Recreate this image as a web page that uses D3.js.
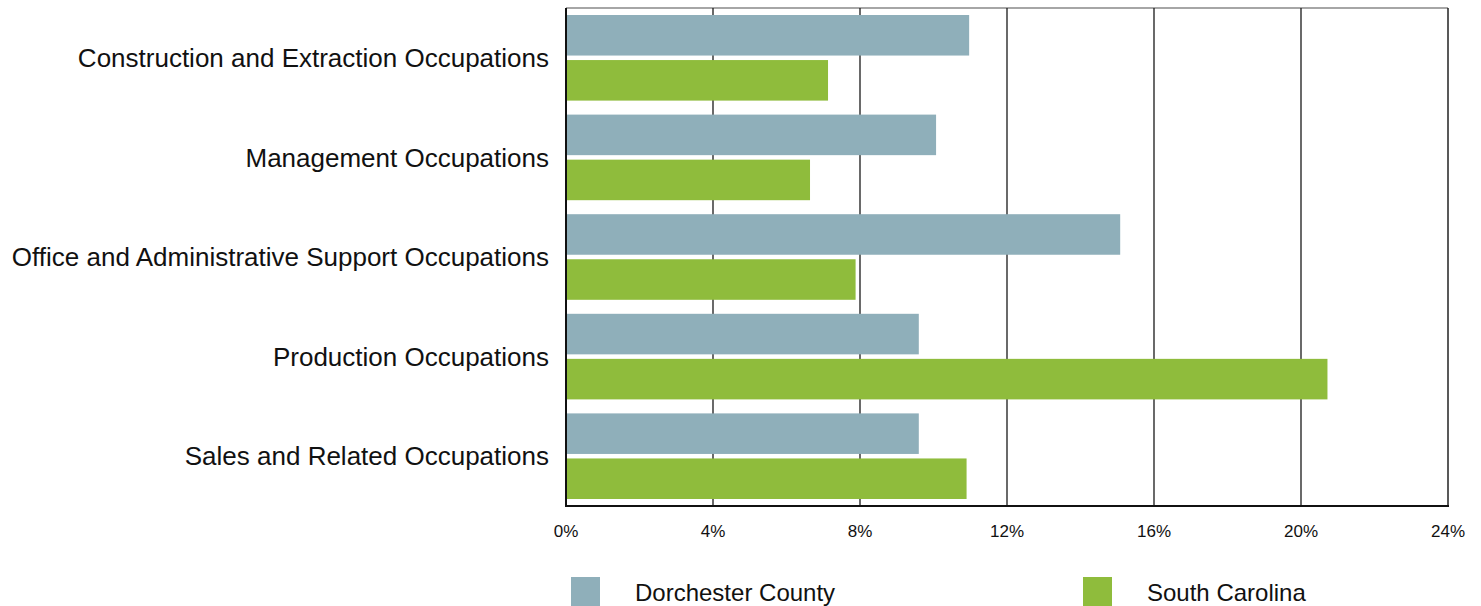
<!DOCTYPE html>
<meta charset="utf-8">
<head>
<script src="https://d3js.org/d3.v7.min.js"></script>
<style>
  body { margin: 0; background: #fff; font-family: "Liberation Sans", Arial, Helvetica, sans-serif; }
</style>
</head>
<body>
<svg></svg>
<script>
  // data
  var categories = ["Construction and Extraction Occupations", "Management Occupations",
                    "Office and Administrative Support Occupations", "Production Occupations",
                    "Sales and Related Occupations"];
  var seriesNames = ["Dorchester County", "South Carolina"];
  var dorchester = [10.97, 10.07, 15.08, 9.6, 9.6];
  var southCarolina = [7.13, 6.64, 7.88, 20.72, 10.9];
  var tickValues = [0, 4, 8, 12, 16, 20, 24];
  var colors = ["#8fafba", "#8fbc3c"];

  var width = 1481, height = 606;
  var plotLeft = 566, plotRight = 1448, plotTop = 8, plotBottom = 506;

  var svg = d3.select("svg").attr("width", width).attr("height", height);

  var x = d3.scaleLinear().domain([0, 24]).range([plotLeft, plotRight]);
  var y = d3.scaleBand().domain(categories).range([plotTop, plotBottom]);
  var inner = d3.scaleBand().domain(seriesNames).range([7, y.bandwidth() - 7]).paddingInner(0.1);

  // frame: top + right borders
  svg.append("line").attr("x1", plotLeft).attr("x2", plotRight).attr("y1", plotTop).attr("y2", plotTop)
    .attr("stroke", "#888").attr("stroke-width", 1.5);
  svg.append("line").attr("x1", plotRight).attr("x2", plotRight).attr("y1", plotTop).attr("y2", plotBottom)
    .attr("stroke", "#222").attr("stroke-width", 1.5);

  // gridlines
  svg.append("g").selectAll("line")
    .data(tickValues.slice(1, -1))
    .enter().append("line")
      .attr("x1", function(d) { return x(d); })
      .attr("x2", function(d) { return x(d); })
      .attr("y1", plotTop).attr("y2", plotBottom)
      .attr("stroke", "#1a1a1a").attr("stroke-width", 1.3);

  var data = [];
  categories.forEach(function(c, i) {
    data.push({cat: c, s: seriesNames[0], v: dorchester[i], k: 0});
    data.push({cat: c, s: seriesNames[1], v: southCarolina[i], k: 1});
  });

  svg.append("g").selectAll("rect")
    .data(data)
    .enter().append("rect")
      .attr("x", x(0))
      .attr("y", function(d) { return y(d.cat) + inner(d.s); })
      .attr("width", function(d) { return x(d.v) - x(0); })
      .attr("height", inner.bandwidth())
      .attr("fill", function(d) { return colors[d.k]; });

  // axis lines
  svg.append("line").attr("x1", plotLeft).attr("x2", plotLeft).attr("y1", plotTop).attr("y2", plotBottom + 1)
    .attr("stroke", "#111").attr("stroke-width", 2);
  svg.append("line").attr("x1", plotLeft - 1).attr("x2", plotRight + 1).attr("y1", plotBottom).attr("y2", plotBottom)
    .attr("stroke", "#111").attr("stroke-width", 2);

  // category labels
  svg.append("g").selectAll("text")
    .data(categories)
    .enter().append("text")
      .attr("x", plotLeft - 17)
      .attr("y", function(d) { return y(d) + y.bandwidth() / 2; })
      .attr("dy", "0.35em")
      .attr("text-anchor", "end")
      .style("font-size", "26px")
      .attr("fill", "#111")
      .text(function(d) { return d; });

  // tick labels
  svg.append("g").selectAll("text")
    .data(tickValues)
    .enter().append("text")
      .attr("x", function(d) { return x(d); })
      .attr("y", 537)
      .attr("text-anchor", "middle")
      .style("font-size", "17px")
      .attr("fill", "#111")
      .text(function(d) { return d + "%"; });

  // legend
  var legendX = [571, 1083];
  var legend = svg.append("g").selectAll("g")
    .data(seriesNames)
    .enter().append("g")
      .attr("transform", function(d, i) { return "translate(" + legendX[i] + ",577)"; });

  legend.append("rect")
    .attr("width", 29).attr("height", 29)
    .attr("fill", function(d, i) { return colors[i]; });

  legend.append("text")
    .attr("x", 64)
    .attr("y", 24)
    .style("font-size", "24px")
    .attr("fill", "#111")
    .text(function(d) { return d; });
</script>
</body>
</html>
